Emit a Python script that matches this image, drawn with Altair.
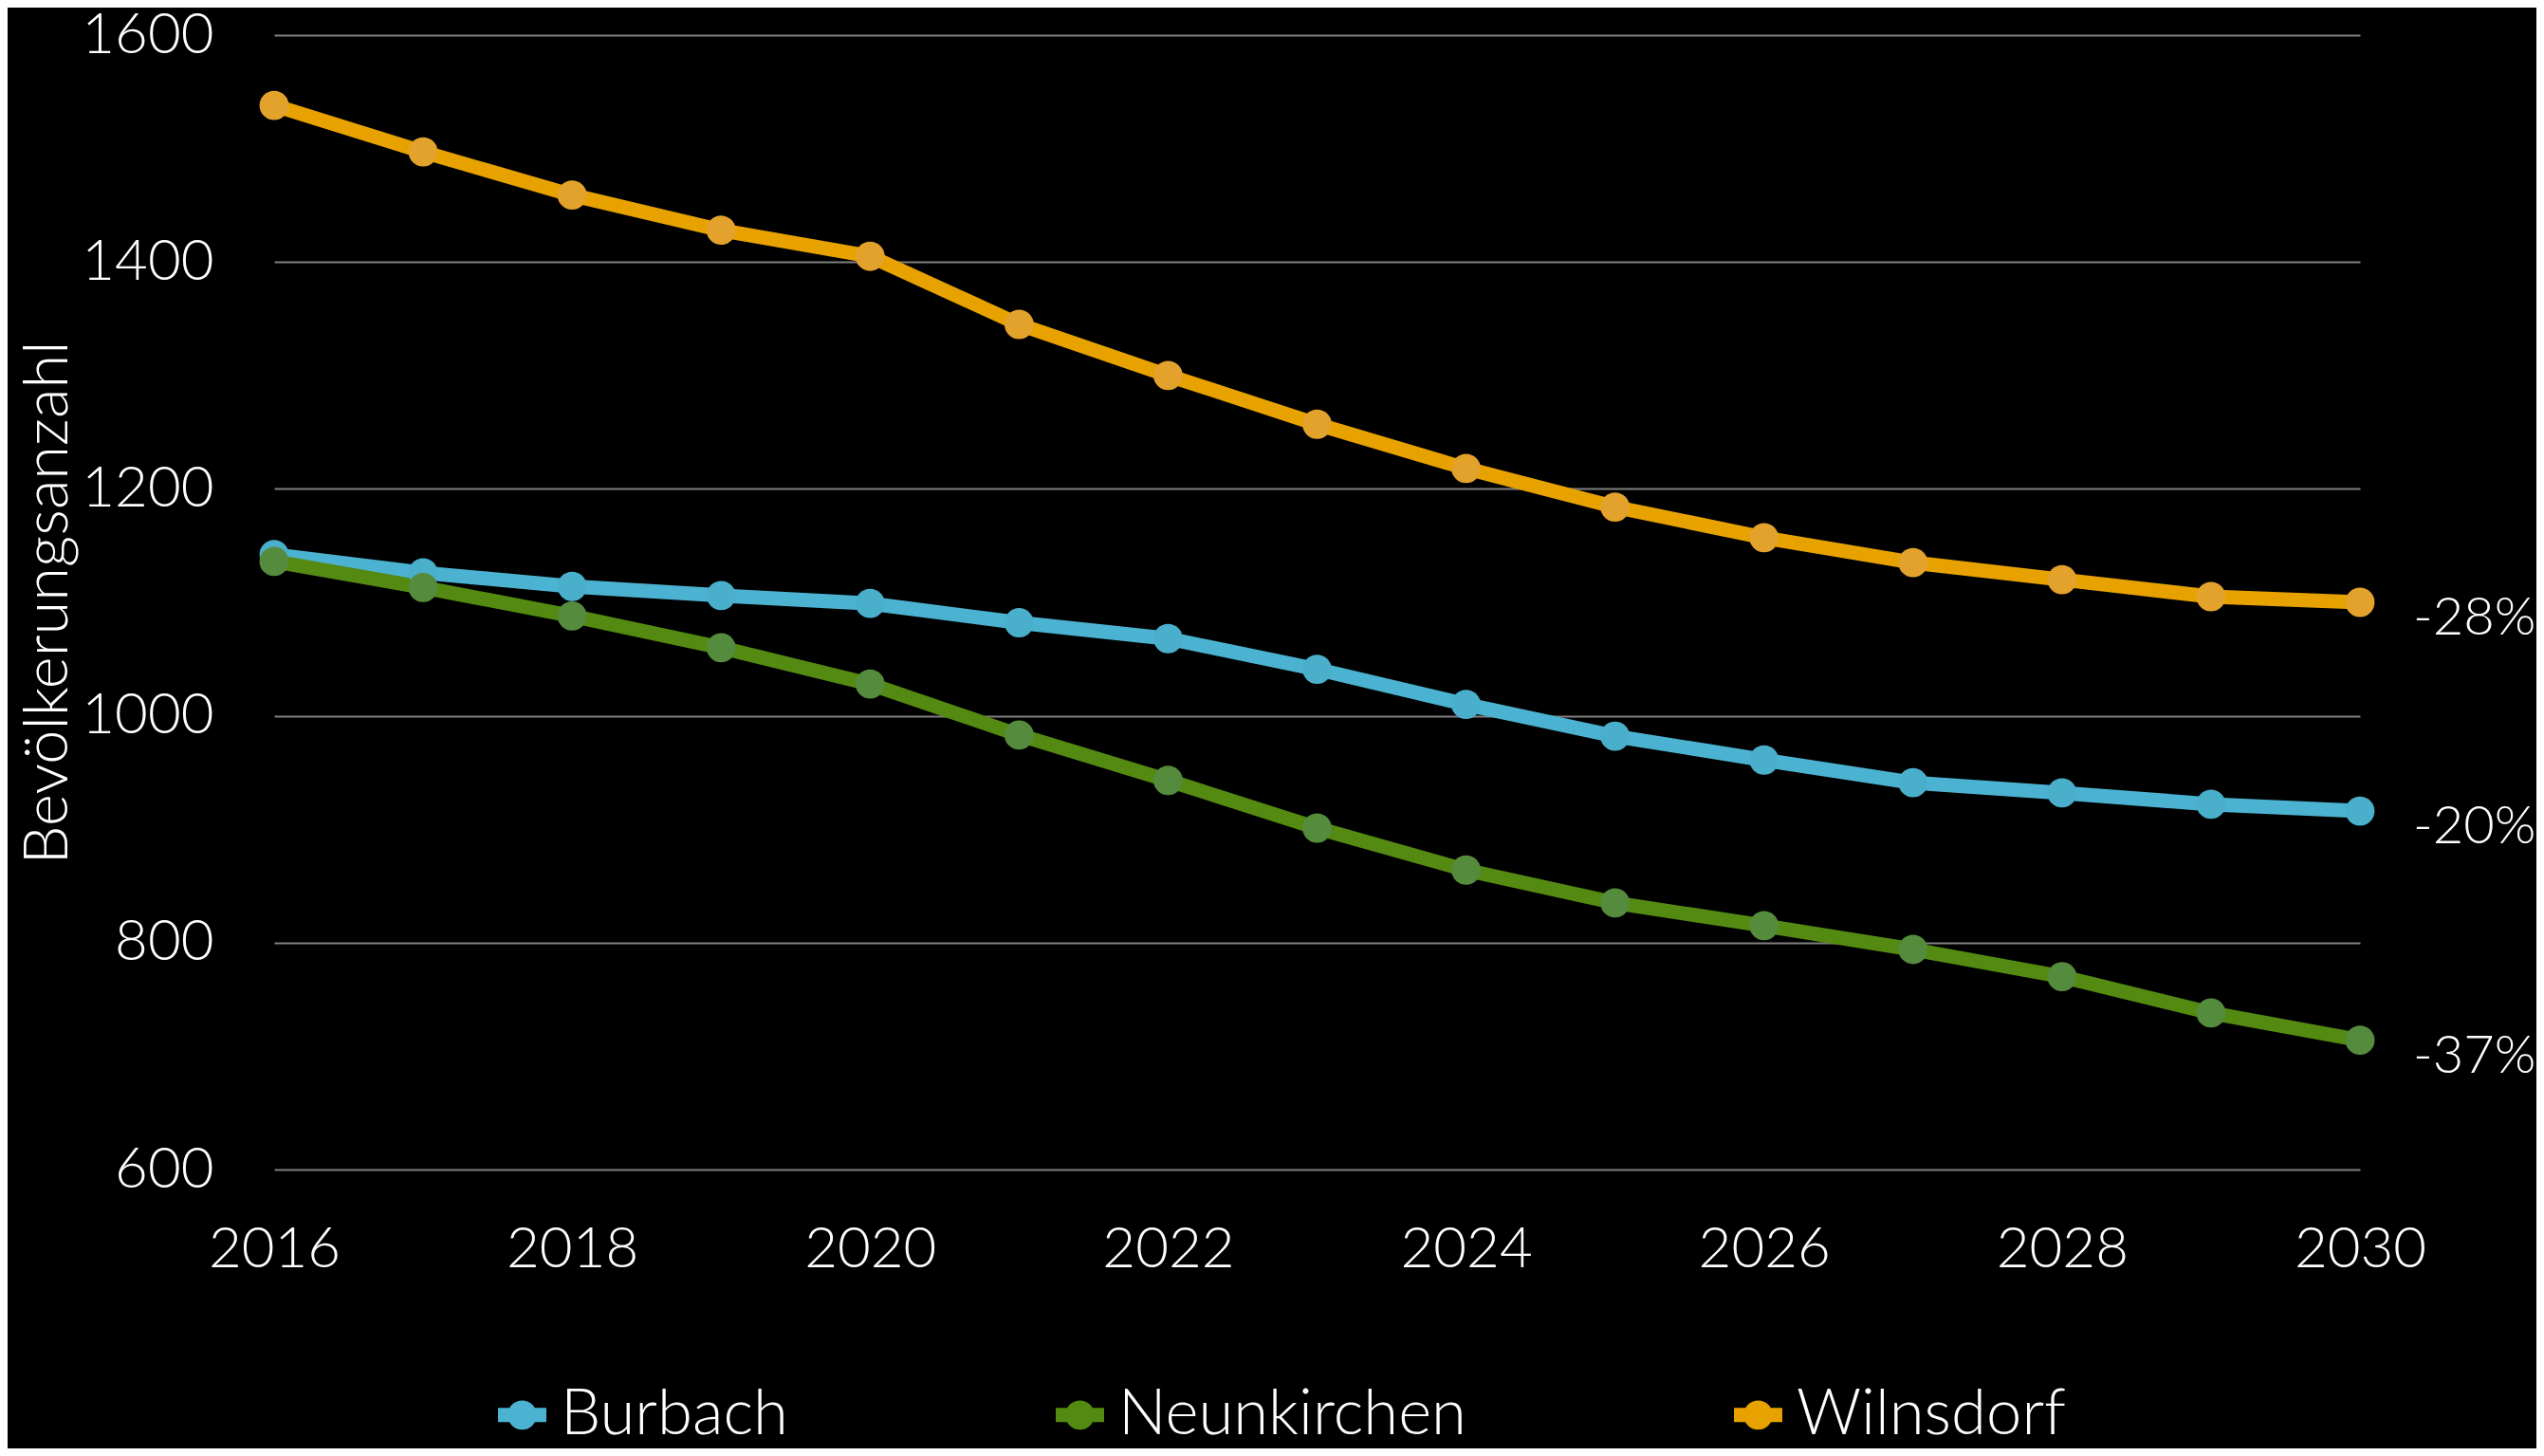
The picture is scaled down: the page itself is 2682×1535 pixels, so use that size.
import altair as alt
import pandas as pd

years = list(range(2016, 2031))
series = ["Burbach", "Neunkirchen", "Wilnsdorf"]
burbach = [1142, 1126, 1114, 1106, 1099, 1082, 1068, 1041, 1010, 982, 961, 941, 932, 922, 916]
neunkirchen = [1136, 1113, 1088, 1060, 1028, 983, 943, 901, 864, 835, 815, 794, 770, 738, 714]
wilnsdorf = [1538, 1497, 1459, 1428, 1405, 1345, 1300, 1257, 1218, 1184, 1157, 1135, 1120, 1105, 1100]
change_labels = ["-20%", "-37%", "-28%"]
x_ticks = [2016, 2018, 2020, 2022, 2024, 2026, 2028, 2030]
y_ticks = [600, 800, 1000, 1200, 1400, 1600]

line_colors = ["#4BB3D1", "#548A12", "#E8A200"]
point_colors = ["#4AAFCB", "#558B3C", "#E2A22C"]

values_by_series = [burbach, neunkirchen, wilnsdorf]
rows = []
for name, vals in zip(series, values_by_series):
    for yr, v in zip(years, vals):
        rows.append({"year": yr, "value": v, "series": name})
df = pd.DataFrame(rows)

lab_df = pd.DataFrame({
    "year": [years[-1]] * 3,
    "value": [vals[-1] for vals in values_by_series],
    "label": change_labels,
})

FONT = "Lato"

x_enc = alt.X(
    "year:Q",
    scale=alt.Scale(domain=[2016, 2030], nice=False, zero=False),
    axis=alt.Axis(values=x_ticks, format="d", title=None, grid=False, domain=False,
                  ticks=False, labelFontSize=60, labelPadding=55, labelFlush=False,
                  labelColor="white", labelFont=FONT, labelFontWeight=300),
)
y_enc = alt.Y(
    "value:Q",
    scale=alt.Scale(domain=[600, 1600], nice=False, zero=False),
    axis=alt.Axis(values=y_ticks, format="d", title="Bevölkerungsanzahl", grid=True,
                  gridColor="#808080", gridWidth=2, domain=False, ticks=False,
                  labelPadding=64, labelFontSize=60, labelColor="white", labelFont=FONT,
                  labelFontWeight=300,
                  titleFontSize=65, titleColor="white", titleFont=FONT, titleFontWeight=300,
                  titleAngle=-90, titleX=-219, titleY=598, titleAlign="center",
                  titleBaseline="alphabetic"),
)

legend_symbol = ("M-1,0L1,0M0.31,0A0.31,0.31 0 1 1 -0.31,0"
                 "A0.31,0.31 0 1 1 0.31,0Z")

line = alt.Chart(df).mark_line(strokeWidth=15).encode(
    x=x_enc,
    y=y_enc,
    color=alt.Color(
        "series:N",
        scale=alt.Scale(domain=series, range=line_colors),
        legend=alt.Legend(
            title=None, orient="none", legendX=228, legendY=1421,
            direction="horizontal", symbolType=legend_symbol, symbolSize=2601,
            symbolStrokeWidth=15, labelFontSize=67, labelColor="white",
            labelFont=FONT, labelFontWeight=300, columnPadding=252, labelOffset=7,
            labelLimit=600,
        ),
    ),
)

points = alt.Chart(df).mark_point(filled=True, size=950, opacity=1).encode(
    x="year:Q",
    y="value:Q",
    fill=alt.Fill("series:N", scale=alt.Scale(domain=series, range=point_colors), legend=None),
)

labels = alt.Chart(lab_df).mark_text(
    align="left", baseline="middle", dx=56, dy=17, fontSize=56, color="white",
    font=FONT, fontWeight=300,
).encode(x="year:Q", y="value:Q", text="label:N")

chart = alt.layer(line, points, labels).properties(
    width=2199,
    height=1196,
    background="black",
    padding={"left": 281, "top": 29, "right": 186, "bottom": 294},
    autosize=alt.AutoSizeParams(type="none"),
).configure_view(stroke=None)

chart.save("out.html", embed_options={"renderer": "svg", "actions": False})
